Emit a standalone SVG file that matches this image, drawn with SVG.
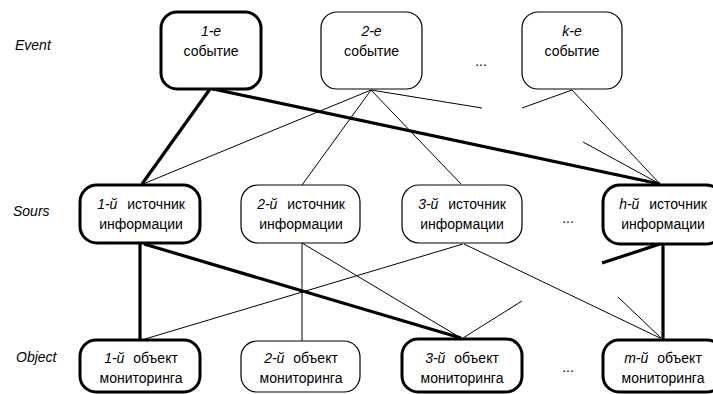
<svg xmlns="http://www.w3.org/2000/svg" width="713" height="394" viewBox="0 0 713 394">
<style>
text{font-family:"Liberation Sans",Arial,sans-serif;font-size:14px;fill:#000}
.c{text-anchor:middle}
.i{font-style:italic}
.box{fill:#fff;stroke:#000;stroke-width:1.2}
.bold{fill:#fff;stroke:#000;stroke-width:3}
.thin{stroke:#000;stroke-width:1;fill:none}
.thick{stroke:#000;stroke-width:3.2;fill:none}
</style>
<rect width="713" height="394" fill="#fff"/>
<g id="labels">
<text class="i" x="15" y="50">Event</text>
<text class="i" x="13" y="216">Sours</text>
<text class="i" x="16" y="362">Object</text>
<text class="c" x="481" y="66">...</text>
<text class="c" x="568" y="223">...</text>
<text class="c" x="568" y="372">...</text>
</g>
<g id="connectors">
<line class="thin" x1="371" y1="90" x2="143" y2="184"/>
<line class="thin" x1="371" y1="90" x2="302" y2="185"/>
<line class="thin" x1="371" y1="90" x2="461" y2="184"/>
<line class="thin" x1="371" y1="90" x2="482" y2="108"/>
<line class="thin" x1="572" y1="90" x2="522" y2="108"/>
<line class="thin" x1="572" y1="90" x2="660" y2="184"/>
<line class="thin" x1="583" y1="142" x2="660" y2="184"/>
<line class="thin" x1="463" y1="244" x2="145" y2="339"/>
<line class="thin" x1="302" y1="243" x2="302" y2="341"/>
<line class="thin" x1="302" y1="243" x2="461" y2="338"/>
<line class="thin" x1="464" y1="244" x2="660" y2="338"/>
<line class="thin" x1="463" y1="338" x2="522" y2="301"/>
<line class="thin" x1="618" y1="297" x2="661" y2="338"/>
<line class="thick" x1="210" y1="89" x2="142" y2="184"/>
<line class="thick" x1="213" y1="89" x2="660" y2="184"/>
<line class="thick" x1="140" y1="243" x2="140" y2="340"/>
<line class="thick" x1="144" y1="244" x2="461" y2="338"/>
<line class="thick" x1="663" y1="245" x2="663" y2="340"/>
<line class="thick" x1="660" y1="244" x2="602" y2="263"/>
</g>
<g id="event1">
<rect class="bold" x="161" y="12" width="100" height="77" rx="16"/>
<text class="c i" x="211" y="36">1-е</text>
<text class="c" x="211" y="56">событие</text>
</g>
<g id="event2">
<rect class="box" x="321" y="12" width="101" height="77" rx="16"/>
<text class="c i" x="371.5" y="36">2-е</text>
<text class="c" x="371.5" y="56">событие</text>
</g>
<g id="eventk">
<rect class="box" x="522" y="12" width="100" height="77" rx="16"/>
<text class="c i" x="572" y="36">k-е</text>
<text class="c" x="572" y="56">событие</text>
</g>
<g id="source1">
<rect class="bold" x="80" y="185" width="120" height="58" rx="17"/>
<text class="c" x="141" y="209"><tspan class="i">1-й</tspan><tspan dx="6"> источник</tspan></text>
<text class="c" x="141" y="229">информации</text>
</g>
<g id="source2">
<rect class="box" x="241" y="185" width="119" height="58" rx="17"/>
<text class="c" x="301" y="209"><tspan class="i">2-й</tspan><tspan dx="6"> источник</tspan></text>
<text class="c" x="301" y="229">информации</text>
</g>
<g id="source3">
<rect class="box" x="402" y="185" width="120" height="58" rx="17"/>
<text class="c" x="462" y="209"><tspan class="i">3-й</tspan><tspan dx="6"> источник</tspan></text>
<text class="c" x="462" y="229">информации</text>
</g>
<g id="sourceh">
<rect class="bold" x="603" y="185" width="120" height="59" rx="17"/>
<text class="c" x="663" y="209"><tspan class="i">h-й</tspan><tspan dx="6"> источник</tspan></text>
<text class="c" x="663" y="229">информации</text>
</g>
<g id="object1">
<rect class="bold" x="80" y="340" width="120" height="52" rx="16"/>
<text class="c" x="141" y="363"><tspan class="i">1-й</tspan><tspan dx="5"> объект</tspan></text>
<text class="c" x="141" y="383">мониторинга</text>
</g>
<g id="object2">
<rect class="box" x="241" y="341" width="119" height="51" rx="16"/>
<text class="c" x="301" y="363"><tspan class="i">2-й</tspan><tspan dx="5"> объект</tspan></text>
<text class="c" x="301" y="383">мониторинга</text>
</g>
<g id="object3">
<rect class="bold" x="402" y="339" width="120" height="53" rx="16"/>
<text class="c" x="462" y="363"><tspan class="i">3-й</tspan><tspan dx="5"> объект</tspan></text>
<text class="c" x="462" y="383">мониторинга</text>
</g>
<g id="objectm">
<rect class="bold" x="603" y="340" width="120" height="52" rx="16"/>
<text class="c" x="663" y="363"><tspan class="i">m-й</tspan><tspan dx="5"> объект</tspan></text>
<text class="c" x="663" y="383">мониторинга</text>
</g>
</svg>
